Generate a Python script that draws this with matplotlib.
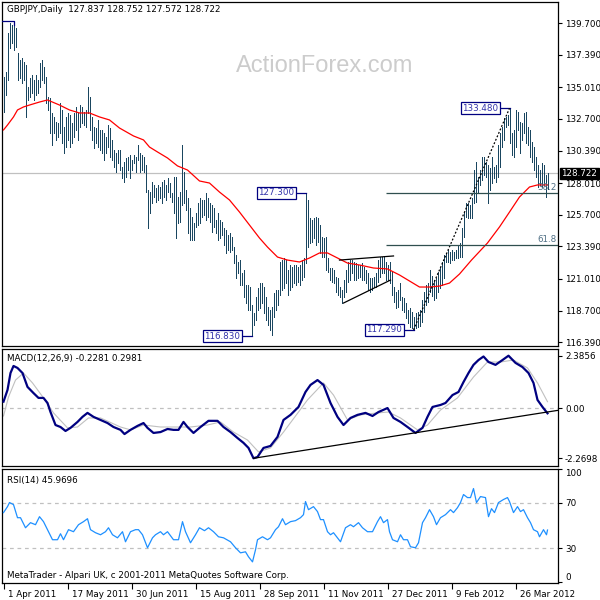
import matplotlib
matplotlib.use("Agg")
import matplotlib.pyplot as plt
from matplotlib.transforms import ScaledTranslation

# ---- data (GBPJPY daily, 1 Apr 2011 .. Apr 2012) ----
bar_high = [
    135.77, 136.14, 138.99, 139.72, 139.57, 139.75, 139.35, 137.53, 137.01, 137.16,
    136.87, 136.65, 135.04, 135.70, 135.92, 135.55, 135.92, 135.55, 136.79, 137.01,
    136.50, 135.77, 134.31, 134.24, 133.14, 132.85, 132.48, 132.41, 133.87, 133.36,
    132.12, 132.85, 133.14, 132.99, 132.41, 133.14, 133.58, 133.14, 133.72, 133.58,
    133.21, 133.36, 135.04, 134.31, 132.85, 132.12, 132.04, 132.63, 131.90, 131.90,
    131.68, 131.39, 132.26, 132.04, 131.17, 130.43, 130.22, 130.43, 130.43, 129.19,
    129.56, 129.85, 129.92, 130.07, 129.70, 130.07, 129.92, 130.80, 130.22, 130.07,
    129.92, 129.34, 127.51, 127.36, 128.10, 127.88, 127.66, 127.88, 127.73, 128.10,
    128.24, 127.88, 128.39, 128.02, 127.29, 128.46, 128.46, 127.00, 127.36, 130.80,
    128.83, 127.51, 126.93, 126.20, 125.54, 125.10, 125.83, 126.56, 126.93, 126.78,
    126.78, 127.29, 126.93, 126.56, 126.41, 126.20, 125.32, 125.83, 125.32, 125.17,
    124.73, 124.59, 124.22, 124.37, 124.08, 123.34, 122.76, 122.25, 122.39, 121.44,
    121.66, 120.57, 120.57, 120.42, 119.10, 118.52, 119.69, 120.35, 120.71, 120.71,
    120.42, 119.69, 118.96, 118.74, 118.96, 119.98, 120.20, 120.20, 122.25, 122.39,
    122.54, 122.39, 121.66, 122.03, 121.88, 122.03, 122.03, 121.88, 122.03, 122.39,
    122.54, 127.30, 126.78, 125.46, 125.32, 125.46, 125.54, 125.46, 124.95, 124.08,
    124.00, 124.08, 122.54, 121.81, 121.81, 121.66, 121.15, 121.08, 120.42, 120.20,
    120.93, 121.66, 122.25, 122.39, 122.39, 122.25, 122.17, 122.03, 122.03, 122.17,
    121.88, 121.66, 121.44, 121.08, 121.08, 121.15, 121.44, 122.39, 122.61, 122.61,
    122.61, 122.25, 122.03, 122.25, 121.52, 120.42, 120.05, 120.20, 120.71, 119.69,
    119.62, 119.25, 118.74, 118.89, 118.59, 118.23, 118.52, 118.59, 118.74, 119.47,
    120.05, 120.57, 120.71, 121.66, 121.22, 120.93, 121.08, 121.52, 121.81, 122.25,
    122.76, 122.91, 123.12, 122.98, 123.12, 122.98, 123.12, 123.49, 123.64, 124.73,
    125.90, 126.56, 126.56, 126.41, 126.93, 128.97, 129.56, 128.46, 128.97, 129.92,
    129.92, 129.56, 129.34, 129.12, 129.92, 129.19, 129.34, 130.80, 131.68, 132.12,
    132.77, 132.85, 132.99, 133.48, 131.68, 131.90, 133.36, 133.21, 132.48, 132.41,
    133.14, 133.21, 132.12, 131.90, 131.02, 130.65, 129.92, 129.34, 128.97, 129.48,
    129.34, 128.61, 128.752,
]
bar_low = [
    133.21, 134.46, 135.55, 137.89, 138.26, 137.74, 137.96, 135.55, 135.70, 135.33,
    135.55, 132.85, 134.09, 134.31, 134.60, 134.09, 134.46, 134.60, 135.04, 135.55,
    135.33, 133.87, 133.36, 131.68, 130.80, 131.68, 131.17, 131.39, 131.68, 130.95,
    130.22, 130.65, 131.17, 130.65, 130.95, 131.39, 131.90, 131.17, 132.12, 132.41,
    132.26, 132.12, 133.14, 131.90, 131.17, 130.58, 130.95, 130.65, 130.43, 130.22,
    129.70, 130.22, 130.65, 129.92, 129.70, 129.19, 128.83, 129.48, 128.97, 128.39,
    128.10, 128.46, 128.97, 128.39, 128.97, 129.48, 128.83, 129.70, 128.83, 128.97,
    128.83, 127.36, 124.73, 125.83, 126.56, 127.00, 126.63, 126.78, 126.93, 126.56,
    127.00, 126.78, 127.36, 127.00, 126.63, 125.83, 124.00, 125.10, 125.17, 126.41,
    126.56, 126.05, 124.37, 123.86, 123.86, 123.86, 124.81, 124.95, 125.10, 125.54,
    125.68, 125.32, 125.54, 125.17, 124.44, 124.81, 124.37, 123.86, 124.00, 124.22,
    123.49, 122.91, 123.12, 122.98, 123.12, 122.17, 121.08, 121.44, 120.57, 120.57,
    119.69, 119.25, 118.74, 118.74, 116.83, 117.64, 118.01, 118.74, 118.89, 119.25,
    118.52, 118.01, 117.64, 117.28, 116.90, 118.23, 118.74, 119.10, 119.84, 120.20,
    120.35, 120.71, 119.84, 120.20, 120.42, 120.71, 120.57, 120.79, 120.57, 120.93,
    121.15, 122.17, 123.34, 123.64, 123.71, 124.00, 123.49, 123.71, 122.91, 122.61,
    122.61, 121.66, 121.52, 120.93, 120.79, 120.71, 120.05, 119.84, 119.69, 119.25,
    119.69, 120.05, 120.79, 120.93, 121.44, 120.93, 120.93, 121.08, 121.15, 120.93,
    120.93, 120.71, 120.20, 120.05, 120.20, 120.42, 120.42, 120.79, 121.15, 121.44,
    121.44, 120.93, 120.93, 120.71, 119.84, 119.32, 118.89, 118.96, 119.47, 118.74,
    118.59, 118.15, 117.79, 117.50, 117.42, 117.29, 117.42, 117.50, 117.57, 117.86,
    118.59, 119.10, 119.32, 120.05, 119.76, 119.47, 119.62, 120.05, 120.35, 120.57,
    121.08, 122.25, 122.25, 122.17, 122.39, 122.39, 122.54, 122.54, 122.61, 122.61,
    124.08, 125.54, 125.46, 125.46, 125.46, 126.56, 126.63, 127.29, 127.88, 128.24,
    128.61, 128.46, 126.56, 127.51, 128.02, 128.39, 128.10, 128.46, 129.19, 130.65,
    131.17, 132.12, 132.26, 130.95, 130.07, 129.92, 130.65, 131.90, 130.22, 131.17,
    131.68, 130.95, 130.80, 129.92, 129.56, 128.97, 128.46, 127.73, 127.88, 127.73,
    127.88, 127.00, 127.572,
]
last_ohlc = [127.837, 128.752, 127.572, 128.722]

# red moving average (bar index, value)
ma_bar = [0, 2, 5, 7, 10, 13, 18, 22, 28, 33, 38, 43, 48, 53, 58, 65, 70, 73, 77, 82,
          87, 92, 98, 103, 108, 113, 118, 123, 128, 132, 137, 142, 148, 153, 158, 162,
          167, 172, 178, 185, 192, 198, 203, 208, 213, 218, 223, 228, 234, 242, 248,
          253, 258, 263, 267, 272]
ma_val = [131.90, 132.26, 132.85, 133.36, 133.58, 133.72, 133.94, 134.09, 133.72, 133.36,
          133.14, 133.14, 132.85, 132.63, 132.04, 131.46, 131.17, 130.65, 130.29, 129.85,
          129.27, 128.97, 128.17, 128.02, 127.36, 126.78, 125.90, 124.95, 124.00, 123.34,
          122.61, 122.39, 122.25, 122.54, 122.91, 122.91, 122.54, 122.17, 122.03, 121.81,
          121.74, 121.30, 120.86, 120.42, 120.42, 120.49, 120.71, 121.37, 122.39, 123.64,
          124.81, 125.90, 127.00, 127.73, 127.88, 127.88]

# MACD(12,26,9)
macd_bar = [0, 2, 3.5, 5, 7, 9.5, 12, 15, 17.5, 20, 22, 23.5, 26, 28.5, 31, 33.5, 37, 39.5,
            42, 45, 48.5, 52, 55, 58.5, 60.5, 63.5, 67, 70, 72, 75, 78.5, 82, 85, 87.5, 90,
            92, 95, 98.5, 102.5, 107, 110, 113.5, 117, 120, 122.5, 125, 127, 130, 133.5,
            137, 140, 143.5, 147.5, 151, 153.5, 157, 160, 163.5, 167, 170, 173.5, 177, 181,
            184.5, 187.5, 192, 195, 198.5, 202, 206, 209.5, 212, 214.5, 218.5, 221, 224.5,
            227.5, 230, 232.5, 235, 237.5, 240, 242.5, 246, 249.5, 252.5, 256, 259.5, 262.5,
            265, 267, 269.5, 272]
macd_val = [0.30, 0.83, 1.60, 1.92, 1.83, 1.60, 0.97, 0.69, 0.47, 0.47, 0.24, -0.17, -0.76,
            -0.85, -1.03, -0.89, -0.62, -0.39, -0.21, -0.39, -0.53, -0.67, -0.85, -0.98,
            -1.17, -0.98, -0.80, -0.67, -0.89, -1.12, -1.08, -0.94, -0.98, -0.98, -0.62,
            -0.85, -1.12, -0.85, -0.57, -0.57, -0.85, -1.08, -1.35, -1.57, -1.80, -2.27,
            -2.21, -1.80, -1.71, -1.30, -0.53, -0.30, 0.06, 0.74, 1.06, 1.28, 1.06, 0.24,
            -0.39, -0.76, -0.44, -0.30, -0.21, -0.35, -0.17, 0.01, -0.44, -0.62, -0.85,
            -1.12, -0.89, -0.39, 0.06, 0.15, 0.24, 0.60, 0.74, 1.19, 1.60, 1.97, 2.19, 2.35,
            2.10, 1.97, 2.19, 2.3856, 2.06, 1.87, 1.60, 1.15, 0.38, 0.06, -0.2281]
signal_bar = [0, 2.5, 6, 10, 14.5, 20, 25, 32, 37, 42.5, 48.5, 58.5, 63.5, 70, 78.5, 87,
              93.5, 102, 108.5, 115, 122, 127.5, 133.5, 140, 147.5, 152, 160, 165, 172,
              178.5, 187, 192.5, 198.5, 207, 212, 218.5, 227, 235, 242, 248.5, 255, 262,
              267, 272]
signal_val = [-0.35, 0.51, 1.28, 1.60, 1.15, 0.47, -0.21, -0.89, -0.85, -0.44, -0.44,
              -0.85, -0.98, -0.76, -0.85, -0.85, -0.85, -0.76, -0.62, -1.08, -1.44, -1.98,
              -1.80, -1.08, -0.17, 0.38, 1.15, 0.60, -0.53, -0.30, -0.21, -0.17, -0.44,
              -0.98, -0.76, -0.08, 0.47, 1.42, 2.10, 2.10, 2.19, 1.83, 1.15, 0.2981]
macd_trend = ([125, 277.5], [-2.27, -0.09])

# RSI(14)
rsi_bar = [0, 2, 3, 5, 7, 8.5, 11, 13.5, 16, 18, 20, 22.5, 24.5, 27, 28.5, 30, 32.5, 35,
           37.5, 40, 42, 43.5, 46, 48.5, 51, 52.5, 54.5, 57, 59.5, 61, 63.5, 66, 67.5, 69.5,
           72, 74.5, 76, 78.5, 80, 82, 85, 87.5, 89.5, 91, 93.5, 96, 98, 100.5, 102.5, 105,
           107.5, 110, 113.5, 116, 118.5, 121, 122.5, 124.5, 126, 127, 129.5, 132, 133.5,
           136, 137.5, 139.5, 141, 143.5, 146, 148.5, 150, 151, 152.5, 155, 157, 158.5, 160,
           162, 163.5, 165, 167, 168.5, 171, 173.5, 175, 177.5, 179.5, 182, 184.5, 187,
           188.5, 190, 192, 193, 194.5, 197, 198.5, 200, 202, 203.5, 206, 207.5, 209.5,
           211, 213, 215, 216.5, 218.5, 221, 223.5, 225, 227, 228.5, 230, 232, 233.5, 235,
           236.5, 238.5, 241, 242.5, 244, 245.5, 247.5, 250, 252, 253, 255, 257, 258.5,
           260, 262, 263.5, 265, 267, 268, 270, 271.5, 272]
rsi_val = [61.4, 66.7, 70.3, 68.5, 56.9, 56.9, 48.0, 52.5, 50.7, 57.8,
           53.4, 44.5, 37.4, 37.4, 42.7, 37.4, 46.3, 44.5, 50.7, 53.4,
           56.0, 46.3, 43.6, 41.8, 44.5, 48.0, 41.8, 39.1, 44.5, 35.6,
           44.5, 46.3, 46.3, 41.8, 30.3, 39.1, 41.8, 44.5, 41.8, 44.5,
           37.4, 37.4, 53.4, 44.5, 34.7, 41.8, 48.0, 45.4, 48.0, 44.5,
           40.0, 39.1, 35.6, 30.3, 25.8, 26.7, 22.3, 17.8, 28.5, 37.4,
           40.0, 37.4, 39.1, 46.3, 48.9, 56.0, 50.7, 53.4, 54.3, 56.9,
           59.6, 71.2, 64.0, 66.7, 62.3, 55.2, 55.2, 44.5, 41.8, 43.6,
           39.1, 35.6, 48.0, 50.7, 48.9, 52.5, 48.0, 44.5, 44.5, 53.4,
           57.8, 52.5, 55.2, 44.5, 37.4, 35.6, 41.8, 37.4, 37.4, 31.2,
           30.3, 34.7, 52.5, 56.9, 64.0, 57.8, 50.7, 56.9, 59.6, 64.0,
           61.4, 65.8, 70.3, 77.4, 74.7, 74.7, 82.7, 70.3, 75.6, 74.7,
           57.8, 64.9, 61.4, 70.3, 73.0, 74.7, 71.2, 61.4, 66.7, 62.3,
           64.0, 56.9, 52.5, 46.3, 44.5, 40.0, 46.3, 41.8, 45.9696]

# swing labels (bar index, price), triangle and fib anchors
swing_bar = [124, 151, 205, 253]
swing_price = [116.83, 127.30, 117.29, 133.48]
tri_upper = ([168, 195], [122.39, 122.69])
tri_lower = ([170, 193.5], [119.25, 120.93])
fib_levels = [0.382, 0.618]
fib_start = 191

price_ticks = [139.70, 137.39, 135.01, 132.70, 130.39, 128.01, 125.70, 123.39, 121.01,
               118.70, 116.39]
macd_ticks = [2.3856, 0.0, -2.2698]
macd_tick_labels = ['2.3856', '0.00', '-2.2698']
rsi_ticks = [100, 70, 30, 0]
date_ticks = [0, 32, 64, 96, 128, 160, 192, 224, 256]
date_labels = ['1 Apr 2011', '17 May 2011', '30 Jun 2011', '15 Aug 2011', '28 Sep 2011',
               '11 Nov 2011', '27 Dec 2011', '9 Feb 2012', '26 Mar 2012']

# ---- style ----
plt.rcParams['font.family'] = ['DejaVu Sans']
FS = 6.3
BAR = '#1a4660'
NAVY = '#000080'
XMIN, XMAX = -0.75, 277.25

fig = plt.figure(figsize=(6, 6), dpi=100)


def panel(top, bottom):
    # rectangle given in pixels from the top of a 600x600 picture
    return [2 / 600, 1 - bottom / 600, 556 / 600, (bottom - top) / 600]


ax = fig.add_axes(panel(2, 346))
ax_m = fig.add_axes(panel(349, 466))
ax_r = fig.add_axes(panel(469, 583))

for a in (ax, ax_m, ax_r):
    a.set_xlim(XMIN, XMAX)
    for s in a.spines.values():
        s.set_color('black')
        s.set_linewidth(0.9)
    a.yaxis.tick_right()
    a.tick_params(axis='y', direction='out', length=3, width=0.8, pad=2,
                  labelsize=FS, colors='black')
    a.set_xticks([])

# ---- price panel ----
n = min(len(bar_high), len(bar_low))
ax.vlines(range(n), bar_low[:n], bar_high[:n], color=BAR, linewidth=0.72,
          antialiased=False, zorder=3)
ax.plot(ma_bar, ma_val, color='red', linewidth=0.9, zorder=4)
ax.axhline(last_ohlc[3], color='#c0c0c0', linewidth=0.9, zorder=1)
ax.set_ylim(116.11, 141.25)
ax.set_yticks(price_ticks)
ax.set_yticklabels([f'{p:.3f}' for p in price_ticks])

ax.annotate(f'{last_ohlc[3]:.3f}', xy=(1, last_ohlc[3]),
            xycoords=('axes fraction', 'data'), xytext=(2.5, 0),
            textcoords='offset points', ha='left', va='center', color='white',
            fontsize=FS, annotation_clip=False,
            bbox=dict(boxstyle='square,pad=0.15', fc='black', ec='black'))

# swing labels with connectors
for b, p in zip(swing_bar, swing_price):
    ax.plot([b - 5, b], [p, p], color=NAVY, linewidth=0.9, zorder=5)
    ax.text(b - 5.6, p, f'{p:.3f}', ha='right', va='center', fontsize=FS,
            color='#3333aa', zorder=6,
            bbox=dict(boxstyle='square,pad=0.18', fc='white', ec=NAVY, lw=0.9))

# the high label box sits off the chart, only its corner shows
ax.plot([XMIN, 5.2, 5.2], [139.89, 139.89, 139.57], color=NAVY, linewidth=0.9,
        zorder=5)

# triangle and swing line
ax.plot(*tri_upper, color='black', linewidth=0.9, zorder=5)
ax.plot(*tri_lower, color='black', linewidth=0.9, zorder=5)
lo_p, hi_p = swing_price[2], swing_price[3]
ax.plot([swing_bar[2], swing_bar[3]], [lo_p, hi_p], color='black', linewidth=0.9,
        linestyle=(0, (1.5, 1.5)), zorder=5)

# fibonacci retracements of the last swing
for f in fib_levels:
    lvl = hi_p - f * (hi_p - lo_p)
    ax.hlines(lvl, fib_start, XMAX, color='#2f4f4f', linewidth=0.9, zorder=5)
    ax.text(XMAX - 0.8, lvl + 0.1, f'{f * 100:.1f}', ha='right', va='bottom',
            fontsize=FS, color='#4f6f85', zorder=6)

ax.text(0.5795, 0.815, 'ActionForex.com', transform=ax.transAxes, ha='center',
        va='center', fontsize=17, color='#cccccc', family='Liberation Sans', zorder=0)
ax.text(0.009, 0.977, 'GBPJPY,Daily  ' + ' '.join(f'{v:.3f}' for v in last_ohlc),
        transform=ax.transAxes, ha='left', va='center', fontsize=FS, color='black')

# ---- MACD panel ----
ax_m.axhline(0, color='#c0c0c0', linewidth=0.9, linestyle=(0, (3, 3)), zorder=1)
ax_m.plot(signal_bar, signal_val, color='#c0c0c0', linewidth=0.8, zorder=2)
ax_m.plot(macd_bar, macd_val, color=NAVY, linewidth=1.6, zorder=3)
ax_m.plot(*macd_trend, color='black', linewidth=0.9, zorder=4)
ax_m.set_ylim(-2.62, 2.69)
ax_m.set_yticks(macd_ticks)
ax_m.set_yticklabels(macd_tick_labels)
ax_m.text(0.009, 0.92, f'MACD(12,26,9) {macd_val[-1]:.4f} {signal_val[-1]:.4f}',
          transform=ax_m.transAxes, ha='left', va='center', fontsize=FS, color='black')

# ---- RSI panel ----
for lvl in (70, 30):
    ax_r.axhline(lvl, color='#c0c0c0', linewidth=0.9, linestyle=(0, (3, 3)), zorder=1)
ax_r.plot(rsi_bar, rsi_val, color='#1e90ff', linewidth=0.9, zorder=3)
ax_r.set_ylim(-0.9, 100)
ax_r.set_yticks(rsi_ticks)
ax_r.set_yticklabels([str(v) for v in rsi_ticks])
rl = ax_r.get_yticklabels()
rl[0].set_verticalalignment('top')
rl[-1].set_verticalalignment('bottom')
ax_r.text(0.009, 0.9, f'RSI(14) {rsi_val[-1]:.4f}', transform=ax_r.transAxes,
          ha='left', va='center', fontsize=FS, color='black')
ax_r.text(0.009, 0.07, 'MetaTrader - Alpari UK, c 2001-2011 MetaQuotes Software Corp.',
          transform=ax_r.transAxes, ha='left', va='center', fontsize=FS, color='black')

ax_r.set_xticks(date_ticks)
ax_r.set_xticklabels(date_labels)
ax_r.tick_params(axis='x', direction='out', length=4, width=0.8, pad=1,
                 labelsize=FS, colors='black')
shift = ScaledTranslation(3 / 72, 0, fig.dpi_scale_trans)
for lbl in ax_r.get_xticklabels():
    lbl.set_horizontalalignment('left')
    lbl.set_transform(lbl.get_transform() + shift)

fig.savefig('out.png', dpi=100)
